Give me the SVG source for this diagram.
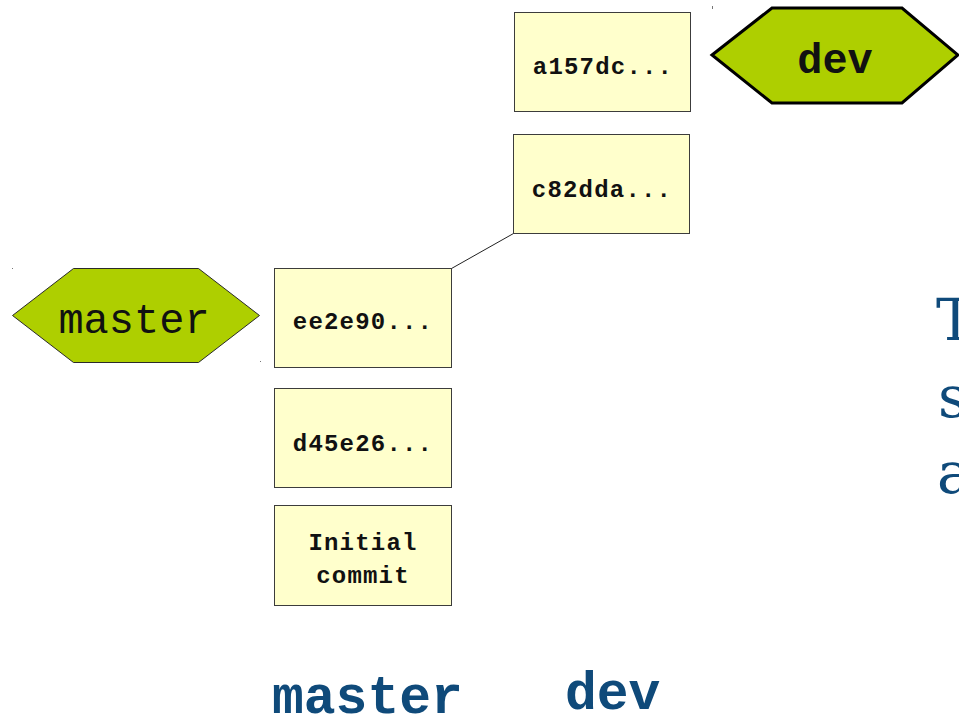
<svg xmlns="http://www.w3.org/2000/svg" width="959" height="716" viewBox="0 0 959 716">
  <style>
    .commit rect { fill: #ffffcc; stroke: #3c3c3c; stroke-width: 1; }
    .commit text { font-family: "Liberation Mono", "Courier New", monospace; font-weight: bold; font-size: 24px; letter-spacing: 1.2px; fill: #111; text-anchor: middle; }
    .branch polygon { fill: #aecf00; }
    .branch text { font-family: "Liberation Mono", "Courier New", monospace; font-size: 42px; fill: #111; text-anchor: middle; }
    .label { font-family: "Liberation Mono", "Courier New", monospace; font-weight: bold; font-size: 53px; fill: #0f4a7a; }
    .side { font-family: "DejaVu Serif", "Liberation Serif", serif; font-size: 58px; fill: #0f4a7a; }
    .tick { fill: #777; }
  </style>

  <!-- connectors -->
  <g id="connectors">
    <line x1="451.5" y1="268.5" x2="513.5" y2="233.5" stroke="#222" stroke-width="1"/>
  </g>

  <!-- commits -->
  <g id="commit-a157dc" class="commit">
    <rect x="514.5" y="12.5" width="176" height="99"/>
    <text x="603" y="74">a157dc...</text>
  </g>
  <g id="commit-c82dda" class="commit">
    <rect x="513.5" y="134.5" width="176" height="99"/>
    <text x="602" y="197">c82dda...</text>
  </g>
  <g id="commit-ee2e90" class="commit">
    <rect x="274.5" y="268.5" width="177" height="99"/>
    <text x="363" y="329">ee2e90...</text>
  </g>
  <g id="commit-d45e26" class="commit">
    <rect x="274.5" y="388.5" width="177" height="99"/>
    <text x="363" y="451">d45e26...</text>
  </g>
  <g id="commit-initial" class="commit">
    <rect x="274.5" y="505.5" width="177" height="100"/>
    <text x="363" y="550">Initial</text>
    <text x="363" y="583">commit</text>
  </g>

  <!-- branch pointers -->
  <g id="branch-dev" class="branch">
    <polygon points="712,55 772,8 902,8 958,55 902,103 772,103" stroke="#000" stroke-width="3" stroke-linejoin="miter"/>
    <text x="835" y="73" font-weight="bold">dev</text>
  </g>
  <g id="branch-master" class="branch">
    <polygon points="12.5,315.5 73.5,268.5 198.5,268.5 259.5,315.5 198.5,362.5 73.5,362.5" stroke="#2a2a2a" stroke-width="1"/>
    <text x="134" y="333">master</text>
  </g>

  <!-- selection handle remnants -->
  <rect class="tick" x="712" y="6" width="1" height="3"/>
  <rect class="tick" x="12" y="268" width="1" height="1"/>
  <rect class="tick" x="260" y="361" width="1" height="1"/>

  <!-- branch captions -->
  <text class="label" x="272" y="713">master</text>
  <text class="label" x="565" y="709">dev</text>

  <!-- side text running off the right edge -->
  <text class="side" x="936" y="340">T</text>
  <text class="side" x="938" y="417">s</text>
  <text class="side" x="937" y="493">a</text>
</svg>
